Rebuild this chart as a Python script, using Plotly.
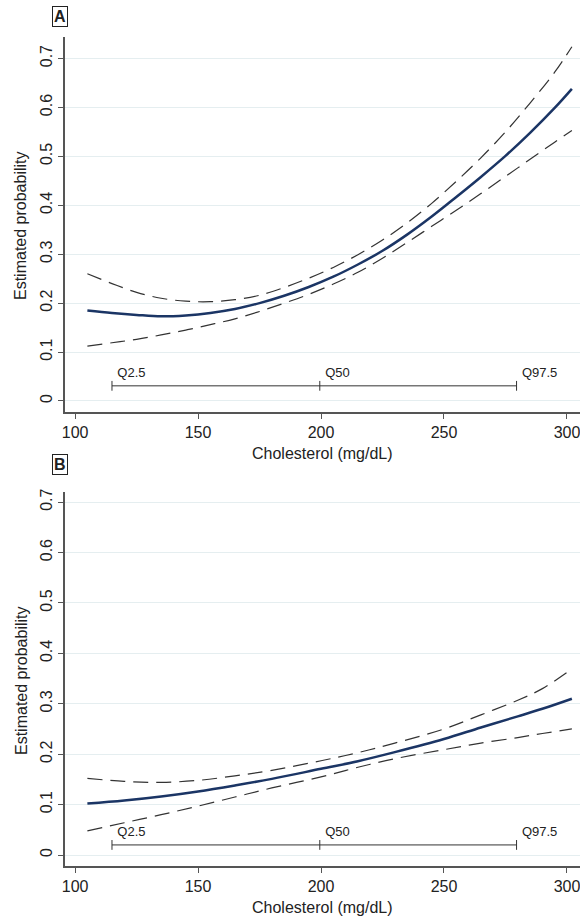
import plotly.graph_objects as go

# ---- Panel A data ----
a_x = [105, 115, 125, 135, 145, 155, 165, 175, 185, 195, 205, 215, 225, 235, 245, 255, 265, 275, 285, 295, 302]
a_est = [0.185, 0.180, 0.176, 0.173, 0.175, 0.180, 0.188, 0.200, 0.215, 0.233, 0.254, 0.279, 0.307, 0.340, 0.377, 0.417, 0.458, 0.501, 0.548, 0.599, 0.638]
a_up = [0.260, 0.240, 0.222, 0.210, 0.204, 0.203, 0.207, 0.216, 0.232, 0.251, 0.273, 0.299, 0.329, 0.364, 0.404, 0.449, 0.497, 0.550, 0.609, 0.672, 0.724]
a_lo = [0.112, 0.119, 0.126, 0.135, 0.145, 0.156, 0.168, 0.183, 0.200, 0.218, 0.239, 0.263, 0.292, 0.324, 0.357, 0.390, 0.424, 0.459, 0.494, 0.529, 0.553]

# ---- Panel B data ----
b_x = [105, 120, 135, 150, 165, 180, 200, 215, 230, 250, 265, 280, 290, 302]
b_est = [0.102, 0.108, 0.116, 0.126, 0.138, 0.151, 0.171, 0.186, 0.204, 0.230, 0.253, 0.275, 0.290, 0.310]
b_up = [0.152, 0.146, 0.144, 0.148, 0.157, 0.168, 0.187, 0.203, 0.222, 0.250, 0.278, 0.307, 0.330, 0.369]
b_lo = [0.048, 0.064, 0.080, 0.097, 0.115, 0.133, 0.155, 0.174, 0.191, 0.209, 0.222, 0.233, 0.241, 0.250]

# ---- Quantiles ----
q_labels = ["Q2.5", "Q50", "Q97.5"]
q_x = [115, 199.5, 279.5]
q_y_a = 0.031
q_y_b = 0.02

y_ticks = [0, 0.1, 0.2, 0.3, 0.4, 0.5, 0.6, 0.7]
y_ticktext = ["0", "0.1", "0.2", "0.3", "0.4", "0.5", "0.6", "0.7"]
x_ticks = [100, 150, 200, 250, 300]
x_title = "Cholesterol (mg/dL)"
y_title = "Estimated probability"

NAVY = "#1b3565"
CI = "#333333"
FONT = "Liberation Sans, Arial, sans-serif"
W, H = 580, 918

fig = go.Figure()

def add_panel(xs, est, up, lo, qy, xa, ya):
    for ys in (up, lo):
        fig.add_trace(go.Scatter(x=xs, y=ys, mode="lines", xaxis=xa, yaxis=ya,
                                 line=dict(color=CI, width=1.2, dash="15px,8px"),
                                 line_shape="spline", showlegend=False))
    fig.add_trace(go.Scatter(x=xs, y=est, mode="lines", xaxis=xa, yaxis=ya,
                             line=dict(color=NAVY, width=2.5), line_shape="spline",
                             showlegend=False))
    fig.add_trace(go.Scatter(x=q_x, y=[qy] * 3, mode="lines+markers+text", xaxis=xa, yaxis=ya,
                             line=dict(color="#333", width=1),
                             marker=dict(symbol="line-ns-open", size=7, line=dict(color="#333", width=1)),
                             text=q_labels, textposition="top right",
                             textfont=dict(size=13, color="#222", family=FONT),
                             showlegend=False))

add_panel(a_x, a_est, a_up, a_lo, q_y_a, "x", "y")
add_panel(b_x, b_est, b_up, b_lo, q_y_b, "x2", "y2")

xdom = [65 / W, 1.0]
xrange = [95.9, 305.3]
ya_dom = [1 - 412 / H, 1 - 37 / H]
yb_dom = [1 - 866 / H, 1 - 492 / H]

axis_common = dict(showline=True, linecolor="#555", linewidth=1.5, ticks="outside",
                   ticklen=5, tickcolor="#555", tickwidth=1.2, automargin=False,
                   tickfont=dict(size=16, color="#222", family=FONT), zeroline=False)

xaxis_common = dict(axis_common, range=xrange, domain=xdom, tickvals=x_ticks, showgrid=False,
                    ticklabeloverflow="allow")
yaxis_common = dict(axis_common, tickvals=y_ticks, ticktext=y_ticktext, tickangle=-90,
                    showgrid=True, gridcolor="#e5eef0", gridwidth=1)

def ann(text, x, y, size=16, angle=0, **kw):
    return dict(text=text, x=x / W, y=1 - y / H, xref="paper", yref="paper",
                showarrow=False, textangle=angle, xanchor="center", yanchor="middle",
                font=dict(size=size, color="#222", family=FONT), **kw)

annotations = [
    ann(x_title, 322.5, 453),
    ann(x_title, 322.5, 907),
    ann(y_title, 21, 226, angle=-90),
    ann(y_title, 21, 681, angle=-90),
    dict(ann("<b>A</b>", 59.5, 16.5, size=16), bordercolor="#222", borderwidth=1, borderpad=1, bgcolor="white"),
    dict(ann("<b>B</b>", 59.5, 464, size=16), bordercolor="#222", borderwidth=1, borderpad=1, bgcolor="white"),
]

fig.update_layout(
    width=W, height=H,
    margin=dict(l=0, r=0, t=0, b=0),
    plot_bgcolor="white", paper_bgcolor="white",
    font=dict(family=FONT, color="#222"),
    xaxis=dict(xaxis_common, anchor="y"),
    yaxis=dict(yaxis_common, domain=ya_dom, range=[-0.0225, 0.744], anchor="x"),
    xaxis2=dict(xaxis_common, anchor="y2"),
    yaxis2=dict(yaxis_common, domain=yb_dom, range=[-0.0218, 0.720], anchor="x2"),
    annotations=annotations,
)

fig.write_html("out.html", config={"displayModeBar": False},
               post_script="document.documentElement.style.margin='0';"
                           "document.body.style.margin='0';"
                           "document.body.style.overflow='hidden';")
